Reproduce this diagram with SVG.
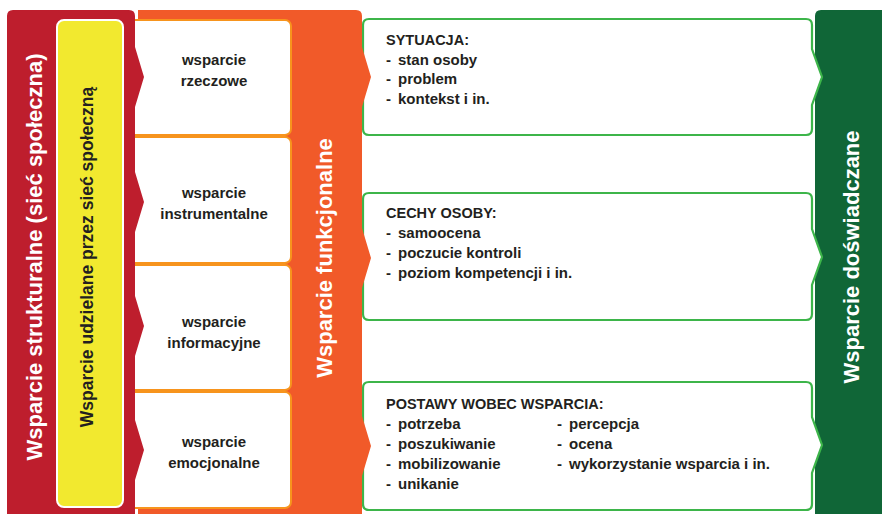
<svg xmlns="http://www.w3.org/2000/svg" width="882" height="514" viewBox="0 0 882 514">
<style>
text{font-family:"Liberation Sans",Arial,sans-serif;font-weight:bold;}
.vt{font-size:22px;fill:#fff;text-anchor:middle;}
.yt{font-size:17.5px;fill:#231f20;text-anchor:middle;}
.bt{font-size:15px;fill:#231f20;text-anchor:middle;}
.gt{font-size:15px;fill:#231f20;}
.gh{font-size:14.5px;fill:#231f20;}
.wbox{fill:#fff;stroke:#f7941d;stroke-width:2;}
.gbox{fill:#fff;stroke:#3db54a;stroke-width:2.2;}
</style>
<rect width="882" height="514" fill="#fff"/>
<g id="doswiadczane">
<path d="M815,16 Q815,10 821,10 H882 V514 H815 Z" fill="#106637"/>
<text class="vt" transform="translate(859,257) rotate(-90)">Wsparcie doświadczane</text>
</g>
<g id="sytuacja">
<path class="gbox" d="M369,19 H806 Q812,19 812,25 V49 L822,77 L812,105 V129 Q812,135 806,135 H369 Q363,135 363,129 V25 Q363,19 369,19 Z"/>
<text class="gh" x="386" y="45">SYTUACJA:</text>
<text class="gt" x="386" y="64.5">-</text><text class="gt" x="398" y="64.5">stan osoby</text>
<text class="gt" x="386" y="84">-</text><text class="gt" x="398" y="84">problem</text>
<text class="gt" x="386" y="103.5">-</text><text class="gt" x="398" y="103.5">kontekst i in.</text>
</g>
<g id="cechy">
<path class="gbox" d="M369,193 H806 Q812,193 812,199 V229 L822,257 L812,285 V314 Q812,320 806,320 H369 Q363,320 363,314 V199 Q363,193 369,193 Z"/>
<text class="gh" x="386" y="218">CECHY OSOBY:</text>
<text class="gt" x="386" y="238">-</text><text class="gt" x="398" y="238">samoocena</text>
<text class="gt" x="386" y="258">-</text><text class="gt" x="398" y="258">poczucie kontroli</text>
<text class="gt" x="386" y="278">-</text><text class="gt" x="398" y="278">poziom kompetencji i in.</text>
</g>
<g id="postawy">
<path class="gbox" d="M369,382 H806 Q812,382 812,388 V417 L822,445 L812,473 V504 Q812,510 806,510 H369 Q363,510 363,504 V388 Q363,382 369,382 Z"/>
<text class="gh" x="386" y="409">POSTAWY WOBEC WSPARCIA:</text>
<text class="gt" x="386" y="429">-</text><text class="gt" x="398" y="429">potrzeba</text>
<text class="gt" x="386" y="449">-</text><text class="gt" x="398" y="449">poszukiwanie</text>
<text class="gt" x="386" y="469">-</text><text class="gt" x="398" y="469">mobilizowanie</text>
<text class="gt" x="386" y="489">-</text><text class="gt" x="398" y="489">unikanie</text>
<text class="gt" x="557" y="429">-</text><text class="gt" x="569" y="429">percepcja</text>
<text class="gt" x="557" y="449">-</text><text class="gt" x="569" y="449">ocena</text>
<text class="gt" x="557" y="469">-</text><text class="gt" x="569" y="469">wykorzystanie wsparcia i in.</text>
</g>
<g id="funkcjonalne">
<path d="M138,10 H356 Q362,10 362,16 V47 L371,77 L362,107 V228 L371,258 L362,288 V416 L371,446 L362,476 V514 H138 Z" fill="#f15a29"/>
<text class="vt" transform="translate(332,258) rotate(-90)">Wsparcie funkcjonalne</text>
</g>
<g id="rzeczowe">
<rect class="wbox" x="128" y="20" width="163" height="115" rx="6"/>
<text class="bt" x="214" y="65">wsparcie</text>
<text class="bt" x="214" y="86">rzeczowe</text>
</g>
<g id="instrumentalne">
<rect class="wbox" x="128" y="137" width="163" height="126" rx="6"/>
<text class="bt" x="214" y="198">wsparcie</text>
<text class="bt" x="214" y="219">instrumentalne</text>
</g>
<g id="informacyjne">
<rect class="wbox" x="128" y="265" width="163" height="125" rx="6"/>
<text class="bt" x="214" y="327">wsparcie</text>
<text class="bt" x="214" y="348">informacyjne</text>
</g>
<g id="emocjonalne">
<rect class="wbox" x="128" y="392" width="163" height="116" rx="6"/>
<text class="bt" x="214" y="447">wsparcie</text>
<text class="bt" x="214" y="468">emocjonalne</text>
</g>
<g id="strukturalne">
<path d="M7,16 Q7,10 13,10 H129 Q135,10 135,16 V47 L144,77 L135,107 V172 L144,202 L135,232 V296 L144,326 L135,356 V420 L144,450 L135,480 V514 H7 Z" fill="#be1e2d"/>
<text class="vt" transform="translate(42,257) rotate(-90)">Wsparcie strukturalne (sieć społeczna)</text>
</g>
<g id="udzielane">
<rect x="57" y="20" width="66" height="487" rx="7" fill="#f2e92f" stroke="#fff" stroke-width="2"/>
<text class="yt" transform="translate(93,257) rotate(-90)">Wsparcie udzielane przez sieć społeczną</text>
</g>
<g id="connectors"/>
</svg>
